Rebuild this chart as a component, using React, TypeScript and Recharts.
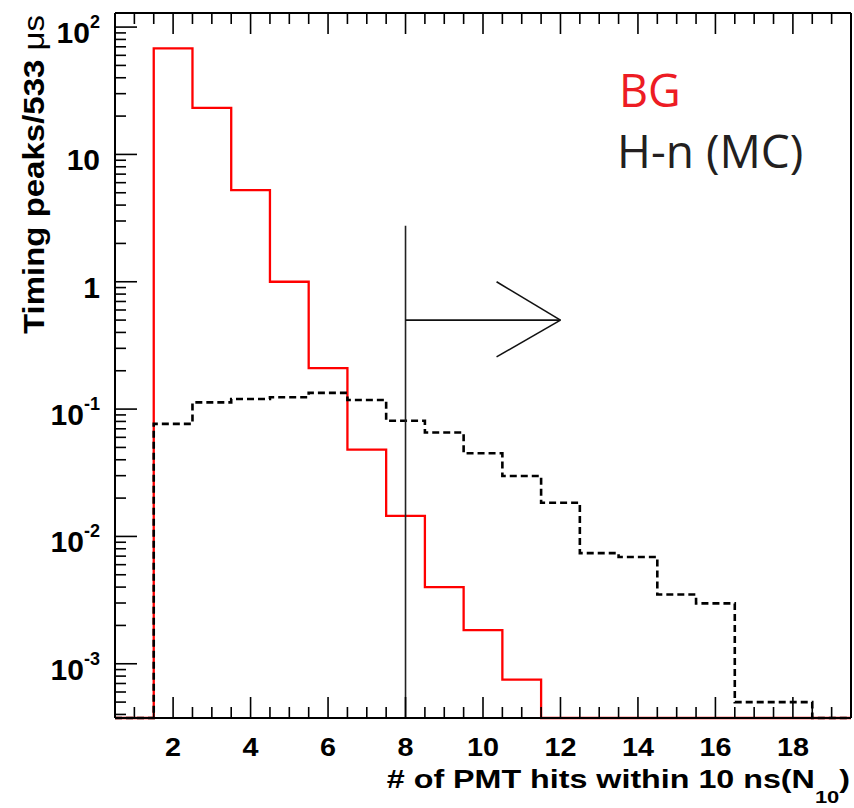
import React from "react";
import {
  LineChart,
  Line,
  XAxis,
  YAxis,
  ReferenceLine,
} from "recharts";

// histogram bins (centres), unit width
const binCenters = [1, 2, 3, 4, 5, 6, 7, 8, 9, 10, 11, 12, 13, 14, 15, 16, 17, 18, 19];
const bgCounts = [
  0, 68, 23.2, 5.25, 1.0, 0.21, 0.048, 0.0145, 0.004, 0.00184, 0.00075,
  0, 0, 0, 0, 0, 0, 0, 0,
];
const mcCounts = [
  0, 0.0766, 0.113, 0.12, 0.124, 0.134, 0.118, 0.081, 0.0654, 0.045, 0.0298,
  0.0184, 0.0074, 0.0069, 0.0035, 0.00298, 0.0005, 0.0005, 0,
];

const X_MIN = 0.5;
const X_MAX = 19.5;
const Y_MIN = 3.75e-4;
const Y_MAX = 129;

const xMajorTicks = [2, 4, 6, 8, 10, 12, 14, 16, 18];
const xTicks = Array.from({ length: 37 }, (_, i) => 1 + i * 0.5);
const yTicks: number[] = [];
for (let d = -4; d <= 2; d++) {
  for (let m = 1; m <= 9; m++) {
    const v = m * Math.pow(10, d);
    if (v >= Y_MIN && v <= Y_MAX) yTicks.push(v);
  }
}

// cut at N10 = 8 and the arrow
const cutX = 8;
const cutTop = 2.75;
const arrowY = 0.5;
const arrowTipX = 12;
const arrowBackX = 10.35;
const arrowHeadHi = 1.0;
const arrowHeadLo = 0.257;

const floorV = (v: number) => (v > 0 ? v : Y_MIN);
const rows = binCenters.map((c, i) => ({
  x: c - 0.5,
  bg: floorV(bgCounts[i]),
  mc: floorV(mcCounts[i]),
}));
rows.push({
  x: binCenters[binCenters.length - 1] + 0.5,
  bg: floorV(bgCounts[bgCounts.length - 1]),
  mc: floorV(mcCounts[mcCounts.length - 1]),
});

const FONT = "'Liberation Sans', Arial, sans-serif";

function XTick(props: any) {
  const { x, y, payload, side } = props;
  const v = payload.value;
  const major = xMajorTicks.includes(v);
  const len = major ? 21 : 11;
  const dir = side === "top" ? 1 : -1;
  return (
    <g>
      <line x1={x} x2={x} y1={y} y2={y + dir * len} stroke="#000" strokeWidth={1.6} />
      {major && side !== "top" && (
        <g transform={`translate(${x},${y + 37.5}) scale(1.15,1)`}>
          <text x={0} y={0} textAnchor="middle" fontFamily={FONT} fontWeight="bold" fontSize={25} fill="#000">
            {v}
          </text>
        </g>
      )}
    </g>
  );
}

function YTick(props: any) {
  const { x, y, payload, side } = props;
  const v = payload.value;
  const e = Math.round(Math.log10(v));
  const major = Math.abs(Math.log10(v) - e) < 1e-6;
  const len = major ? 22 : 11;
  const dir = side === "right" ? -1 : 1;
  let label: React.ReactNode = null;
  if (major && side !== "right") {
    label = (
      <text x={x - 15} y={y + 16} textAnchor="end" fontFamily={FONT} fontWeight="bold" fontSize={30} fill="#000">
        {e === 0 ? "1" : "10"}
        {e !== 0 && e !== 1 && (
          <tspan dy={-15} fontSize={18}>
            {String(e)}
          </tspan>
        )}
      </text>
    );
  }
  return (
    <g>
      <line x1={x} x2={x + dir * len} y1={y} y2={y} stroke="#000" strokeWidth={1.6} />
      {label}
    </g>
  );
}

const frame = { stroke: "#000", strokeWidth: 2 };

export default function App() {
  return (
    <div style={{ position: "absolute", left: 0, top: 0, width: 854, height: 808, background: "#fff" }}>
      <LineChart
        width={854}
        height={808}
        data={rows}
        margin={{ top: 12, right: 2, bottom: 89, left: 114 }}
      >
        <XAxis
          dataKey="x"
          type="number"
          domain={[X_MIN, X_MAX]}
          ticks={xTicks}
          interval={0}
          height={1}
          tickSize={0}
          tickMargin={0}
          tickLine={false}
          axisLine={frame}
          tick={(p: any) => <XTick {...p} side="bottom" />}
        />
        <XAxis
          xAxisId="top"
          orientation="top"
          dataKey="x"
          type="number"
          domain={[X_MIN, X_MAX]}
          ticks={xTicks}
          interval={0}
          height={1}
          tickSize={0}
          tickMargin={0}
          tickLine={false}
          axisLine={frame}
          tick={(p: any) => <XTick {...p} side="top" />}
        />
        <YAxis
          type="number"
          scale="log"
          domain={[Y_MIN, Y_MAX]}
          ticks={yTicks}
          interval={0}
          width={1}
          tickSize={0}
          tickMargin={0}
          tickLine={false}
          axisLine={frame}
          tick={(p: any) => <YTick {...p} side="left" />}
        />
        <YAxis
          yAxisId="right"
          orientation="right"
          type="number"
          scale="log"
          domain={[Y_MIN, Y_MAX]}
          ticks={yTicks}
          interval={0}
          width={1}
          tickSize={0}
          tickMargin={0}
          tickLine={false}
          axisLine={frame}
          tick={(p: any) => <YTick {...p} side="right" />}
        />
        <Line
          type="stepAfter"
          dataKey="bg"
          stroke="#ff0000"
          strokeWidth={2.3}
          dot={false}
          activeDot={false}
          isAnimationActive={false}
        />
        <Line
          type="stepAfter"
          dataKey="mc"
          stroke="#000"
          strokeWidth={2.6}
          strokeDasharray="7 4"
          dot={false}
          activeDot={false}
          isAnimationActive={false}
        />
        <ReferenceLine
          ifOverflow="visible"
          segment={[{ x: cutX, y: cutTop }, { x: cutX, y: Y_MIN }]}
          stroke="#222"
          strokeWidth={1.6}
        />
        <ReferenceLine
          ifOverflow="visible"
          segment={[{ x: cutX, y: arrowY }, { x: arrowTipX, y: arrowY }]}
          stroke="#111"
          strokeWidth={1.6}
        />
        <ReferenceLine
          ifOverflow="visible"
          segment={[{ x: arrowBackX, y: arrowHeadHi }, { x: arrowTipX, y: arrowY }]}
          stroke="#111"
          strokeWidth={1.6}
        />
        <ReferenceLine
          ifOverflow="visible"
          segment={[{ x: arrowBackX, y: arrowHeadLo }, { x: arrowTipX, y: arrowY }]}
          stroke="#111"
          strokeWidth={1.6}
        />
      </LineChart>
      <svg
        width={854}
        height={808}
        style={{ position: "absolute", left: 0, top: 0, pointerEvents: "none" }}
      >
        <g transform="translate(43.5,15) rotate(-90) scale(1.1,1)">
          <text x={0} y={0} textAnchor="end" fontFamily={FONT} fontSize={30} fill="#000">
            <tspan fontWeight="bold">Timing peaks/533 </tspan>
            <tspan>μs</tspan>
          </text>
        </g>
        <g transform="translate(850,788) scale(1.29,1)">
          <text x={0} y={0} textAnchor="end" fontFamily={FONT} fontWeight="bold" fontSize={25} fill="#000">
            # of PMT hits within 10 ns(N
            <tspan dy={15} fontSize={17}>10</tspan>
            <tspan dy={-15}>)</tspan>
          </text>
        </g>
        <text x={619} y={107} fontFamily="'Open Sans', 'Noto Sans', sans-serif" fontSize={45} fill="#ed1c24">
          BG
        </text>
        <text x={617} y={168} fontFamily="'Open Sans', 'Noto Sans', sans-serif" fontSize={46} fill="#231f20">
          H-n (MC)
        </text>
      </svg>
    </div>
  );
}
